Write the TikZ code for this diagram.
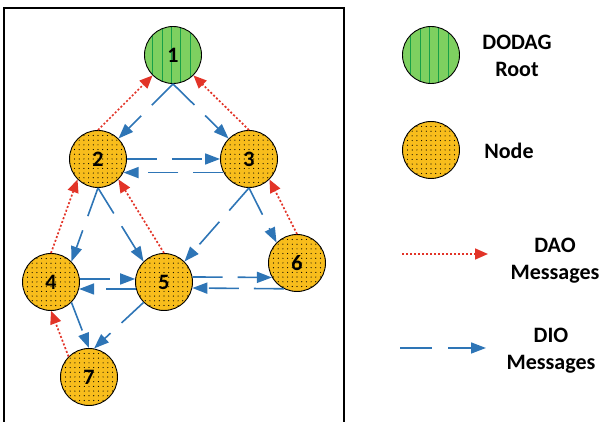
\documentclass[tikz,border=0pt]{standalone}
\usepackage{fontspec}
\setmainfont{Carlito}
\usepackage{xcolor}
\usetikzlibrary{arrows.meta}
\definecolor{myblue}{RGB}{46,117,182}
\definecolor{myred}{RGB}{226,52,40}
\definecolor{mygreen}{RGB}{126,208,96}
\definecolor{mystripe}{RGB}{24,160,72}
\definecolor{myorange}{RGB}{248,189,28}

\begin{document}
\begin{tikzpicture}[x=1pt,y=1pt,
  every node/.style={font=\fontsize{22}{27}\selectfont\bfseries},
  mote/.style={circle,draw,line width=0.9pt,minimum size=57pt,inner sep=0pt,fill=myorange,
    path picture={
      \foreach \i in {-6,...,6}
      \foreach \j in {-6,...,6}
      \fill[black] ([shift={({\i*4.7pt},{\j*4.7pt})}]path picture bounding box.center) circle (0.6pt);
    }},
  rootnode/.style={circle,draw,line width=0.9pt,minimum size=57pt,inner sep=0pt,fill=mygreen,
    path picture={
      \foreach \i in {-2,...,2}
      \draw[mystripe,line width=1pt] ([shift={({\i*9.4pt-1.5pt},-30pt)}]path picture bounding box.center) -- +(0,60pt);
    }},
  dio/.style={myblue,line width=1.6pt,dash pattern=on 30pt off 15pt,-{Triangle[length=15pt,width=11pt]}},
  dao/.style={myred,line width=1.7pt,dash pattern=on 2pt off 2pt,-{Triangle[length=13pt,width=11pt]}}
]
\useasboundingbox (0,0) rectangle (603,422);

%frame
\draw[line width=1.3pt] (4,-5) -- (4,414) -- (344,414) -- (344,-5);

%network
\node[rootnode] (n1) at (173,367) {1};
\node[mote] (n2) at (98,263) {2};
\node[mote] (n3) at (249,263) {3};
\node[mote] (n4) at (51,140) {4};
\node[mote] (n5) at (164,140) {5};
\node[mote] (n6) at (297,159) {6};
\node[mote] (n7) at (89,45) {7};

%DIO messages
\draw[dio] (n1.south) -- (n2.45);
\draw[dio] (n1.south) -- (n3.135);
\draw[dio] (n2.east) -- (n3.west);
\draw[dio] (n3.208) -- (n2.-28);
\draw[dio] (n2.south) -- (n4.45);
\draw[dio] (n2.south) -- (n5.135);
\draw[dio] (n3.south) -- (n5.45);
\draw[dio] (n3.south) -- (n6.135);
\draw[dio] (n4.6) -- (n5.174);
\draw[dio] (n5.194) -- (n4.-14);
\draw[dio] (n5.10) -- (n6.210);
\draw[dio] (n6.243) -- (n5.-12);
\draw[dio] (n4.-45) -- (n7.north);
\draw[dio] (n5.225) -- (n7.80);

%DAO messages
\draw[dao] (n2.north) -- (n1.225);
\draw[dao] (n3.north) -- (n1.315);
\draw[dao] (n4.north) -- (n2.225);
\draw[dao] (n5.north) -- (n2.315);
\draw[dao] (n6.north) -- (n3.315);
\draw[dao] (n7.135) -- (n4.south);

%legend
\node[rootnode] (lroot) at (431,367) {};
\node[align=center] (lroottext) at (517,366) {DODAG\\Root};
\node[mote] (lmote) at (431,272) {};
\node (lmotetext) at (509,271) {Node};
\coordinate (daoa) at (402,168);
\coordinate (daob) at (488,168);
\draw[dao] (daoa) -- (daob);
\node[align=center] (daotext) at (555,161) {DAO\\Messages};
\coordinate (dioa) at (400,74);
\coordinate (diob) at (486,74);
\draw[dio,dash pattern=on 32pt off 16pt] (dioa) -- (diob);
\node[align=center] (diotext) at (551,71) {DIO\\Messages};

\end{tikzpicture}
\end{document}
